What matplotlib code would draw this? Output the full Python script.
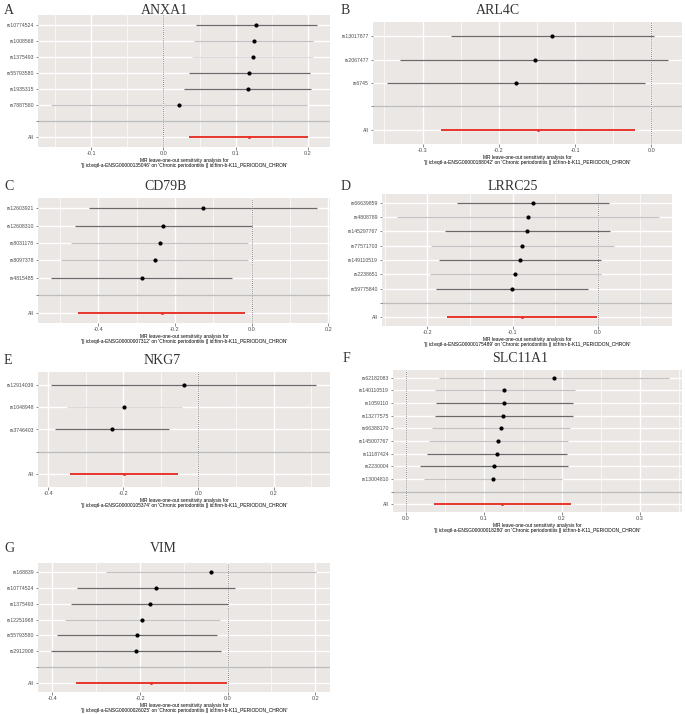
import numpy as np
import matplotlib
matplotlib.use('Agg')
import matplotlib.pyplot as plt

plt.rcParams['font.family'] = 'Liberation Sans'

# ---- data ----
anxa1_snp = ['rs10774524', 'rs1008568', 'rs1375493', 'rs55793580', 'rs1935315', 'rs7887580']
anxa1_b = [0.129, 0.125, 0.124, 0.118, 0.117, 0.022]
anxa1_lo = [0.045, 0.042, 0.040, 0.035, 0.029, -0.156]
anxa1_hi = [0.213, 0.208, 0.208, 0.203, 0.205, 0.199]
anxa1_all = [0.118, 0.036, 0.200]

arl4c_snp = ['rs13017877', 'rs2067477', 'rs6745']
arl4c_b = [-0.130, -0.153, -0.177]
arl4c_lo = [-0.263, -0.329, -0.346]
arl4c_hi = [0.003, 0.022, -0.008]
arl4c_all = [-0.149, -0.276, -0.022]

cd79b_snp = ['rs12603921', 'rs12608310', 'rs8031178', 'rs8097378', 'rs4815485']
cd79b_b = [-0.128, -0.230, -0.239, -0.252, -0.287]
cd79b_lo = [-0.423, -0.461, -0.470, -0.496, -0.523]
cd79b_hi = [0.170, 0.000, -0.010, -0.009, -0.052]
cd79b_all = [-0.235, -0.454, -0.017]

lrrc25_snp = ['rs66639859', 'rs4808789', 'rs145297767', 'rs77571703', 'rs149110519', 'rs2238651', 'rs59775840']
lrrc25_b = [-0.076, -0.082, -0.083, -0.0885, -0.091, -0.0975, -0.101]
lrrc25_lo = [-0.165, -0.235, -0.179, -0.195, -0.186, -0.197, -0.190]
lrrc25_hi = [0.013, 0.072, 0.014, 0.019, 0.004, 0.004, -0.012]
lrrc25_all = [-0.089, -0.177, -0.001]

nkg7_snp = ['rs12914039', 'rs1048948', 'rs3746403']
nkg7_b = [-0.039, -0.197, -0.230]
nkg7_lo = [-0.393, -0.350, -0.381]
nkg7_hi = [0.314, -0.045, -0.079]
nkg7_all = [-0.199, -0.343, -0.054]

slc11a1_snp = ['rs62182083', 'rs140110519', 'rs1059110', 'rs13277575', 'rs66388170',
               'rs145007767', 'rs11187424', 'rs2230004', 'rs13004810']
slc11a1_b = [0.1896, 0.126, 0.1258, 0.125, 0.1215, 0.1185, 0.1164, 0.1125, 0.111]
slc11a1_lo = [0.0428, 0.037, 0.0385, 0.0377, 0.033, 0.030, 0.027, 0.0175, 0.0227]
slc11a1_hi = [0.337, 0.2165, 0.214, 0.214, 0.210, 0.2075, 0.206, 0.208, 0.200]
slc11a1_all = [0.1228, 0.0355, 0.211]

vim_snp = ['rs168839', 'rs10774524', 'rs1375493', 'rs12251968', 'rs55793580', 'rs2912908']
vim_b = [-0.038, -0.1646, -0.178, -0.195, -0.208, -0.209]
vim_lo = [-0.278, -0.344, -0.357, -0.372, -0.389, -0.404]
vim_hi = [0.203, 0.017, 0.000, -0.0175, -0.025, -0.014]
vim_all = [-0.175, -0.347, -0.002]

ensg = {'ANXA1': 'ENSG00000135046', 'ARL4C': 'ENSG00000188042', 'CD79B': 'ENSG00000007312',
        'LRRC25': 'ENSG00000175489', 'NKG7': 'ENSG00000105374', 'SLC11A1': 'ENSG00000018280',
        'VIM': 'ENSG00000026025'}

# ---- layout (pixels in the 685x714 canvas) ----
W, H = 685, 714
D, L, F = '#6a6a6a', '#c2c2c2', '#dadada'
panels = [
    # letter, gene, data, box(x0,y0,x1,y1), xlim, xticks, letter pos, title pos, line shades
    ('A', 'ANXA1', (anxa1_snp, anxa1_b, anxa1_lo, anxa1_hi, anxa1_all), (38, 15, 330, 147),
     (-0.174, 0.231), [-0.1, 0.0, 0.1, 0.2], (4, 10), (164, 10), [D, L, F, D, D, L]),
    ('B', 'ARL4C', (arl4c_snp, arl4c_b, arl4c_lo, arl4c_hi, arl4c_all), (373, 22, 682, 144),
     (-0.365, 0.040), [-0.3, -0.2, -0.1, 0.0], (341, 10), (498, 10), [D, D, D]),
    ('C', 'CD79B', (cd79b_snp, cd79b_b, cd79b_lo, cd79b_hi, cd79b_all), (38, 198, 330, 323),
     (-0.557, 0.204), [-0.4, -0.2, 0.0, 0.2], (4, 187), (166, 187), [D, D, L, L, D]),
    ('D', 'LRRC25', (lrrc25_snp, lrrc25_b, lrrc25_lo, lrrc25_hi, lrrc25_all), (382, 194, 672, 326),
     (-0.253, 0.087), [-0.2, -0.1, 0.0], (341, 187), (513, 187), [D, L, D, L, D, L, D]),
    ('E', 'NKG7', (nkg7_snp, nkg7_b, nkg7_lo, nkg7_hi, nkg7_all), (38, 372, 330, 487),
     (-0.427, 0.350), [-0.4, -0.2, 0.0, 0.2], (4, 360), (162, 360), [D, F, D]),
    ('F', 'SLC11A1', (slc11a1_snp, slc11a1_b, slc11a1_lo, slc11a1_hi, slc11a1_all), (393, 370, 682, 512),
     (-0.0167, 0.354), [0.0, 0.1, 0.2, 0.3], (343, 359), (520, 359), [L, L, D, D, L, L, D, D, L]),
    ('G', 'VIM', (vim_snp, vim_b, vim_lo, vim_hi, vim_all), (38, 563, 330, 692),
     (-0.433, 0.234), [-0.4, -0.2, 0.0, 0.2], (4, 549), (163, 549), [L, D, D, L, D, D]),
]

fig = plt.figure(figsize=(W / 100, H / 100), dpi=100)
fig.patch.set_facecolor('white')

for letter, gene, (snp, b, lo, hi, tot), box, xlim, xticks, lpos, tpos, shades in panels:
    x0, y0, x1, y1 = box
    ax = fig.add_axes([x0 / W, 1 - y1 / H, (x1 - x0) / W, (y1 - y0) / H])
    ax.set_facecolor('#EAE7E5')
    n = len(snp)
    ypos = np.arange(n + 2, 2, -1)  # top SNP highest; blank level at 2, All at 1

    # grid
    step = xticks[1] - xticks[0]
    minor = np.arange(xticks[0] - step / 2, xlim[1], step)
    for m in minor:
        ax.axvline(m, color='white', lw=0.5, zorder=0)
    for t in xticks:
        ax.axvline(t, color='white', lw=1.0, zorder=0)
    for yy in list(ypos) + [2, 1]:
        ax.axhline(yy, color='white', lw=1.0, zorder=0)

    ax.axvline(0, color='#555555', lw=0.6, ls=(0, (1, 1.5)), zorder=1)
    ax.axhline(2, color='#bdbdbd', lw=1.0, zorder=1)

    for i in range(n):
        ax.plot([lo[i], hi[i]], [ypos[i], ypos[i]], color=shades[i], lw=0.9, zorder=2,
                solid_capstyle='butt')
    ax.scatter(b, ypos, s=9, color='black', zorder=3, linewidths=0)
    ax.plot([tot[1], tot[2]], [1, 1], color='#e8352b', lw=1.4, zorder=2, solid_capstyle='butt')
    ax.scatter([tot[0]], [1], s=5, color='#e8352b', zorder=3, linewidths=0)

    ax.set_xlim(*xlim)
    ax.set_ylim(0.4, n + 2.6)
    ax.set_xticks(xticks)
    ax.set_xticklabels(['%.1f' % t for t in xticks])
    ax.set_yticks(list(ypos) + [2, 1])
    ax.set_yticklabels(list(snp) + ['', 'All'])
    ax.tick_params(axis='both', labelsize=3.7, colors='#333333', length=1.8, width=0.4, pad=1.2,
                   labelcolor='#4d4d4d')
    ax.tick_params(axis='x', labelsize=4.0)
    for s in ax.spines.values():
        s.set_visible(False)

    ax.set_xlabel("MR leave-one-out sensitivity analysis for\n'|| id:eqtl-a-%s' on "
                  "'Chronic periodontitis || id:finn-b-K11_PERIODON_CHRON'" % ensg[gene],
                  fontsize=3.5, labelpad=1.5, linespacing=1.0)

    fig.text(lpos[0] / W, 1 - lpos[1] / H, letter, family='Liberation Serif', fontsize=10,
             va='center', ha='left', color='#333333')
    fig.text(tpos[0] / W, 1 - tpos[1] / H, gene, family='Liberation Serif', fontsize=10,
             va='center', ha='center', color='#333333')

fig.savefig('out.png', dpi=100, facecolor='white')
